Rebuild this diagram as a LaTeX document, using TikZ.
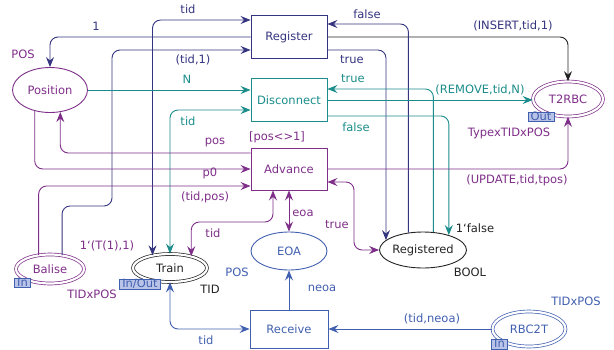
\documentclass[tikz,border=0pt]{standalone}
\usepackage{fontspec}
\setmainfont{DejaVu Sans}
\usetikzlibrary{shapes.geometric,arrows.meta}
\definecolor{cpnnavy}{RGB}{52,52,128}
\definecolor{cpnteal}{RGB}{26,140,138}
\definecolor{cpnpurple}{RGB}{126,46,136}
\definecolor{cpnblue}{RGB}{65,95,175}
\definecolor{cpntag}{RGB}{185,195,232}
\definecolor{cpnblack}{RGB}{35,35,35}

\begin{document}
\begin{tikzpicture}[x=1pt, y=-1pt, line width=0.9pt,
  every node/.style={font=\fontsize{11.5}{13}\selectfont},
  trans/.style={draw, rectangle, minimum width=76pt, minimum height=43pt, inner sep=0pt},
  place/.style={draw, ellipse, inner sep=0pt},
  port/.style={place, double, double distance=2.2pt, line width=0.7pt},
  tag/.style={draw=cpnblue, fill=cpntag, text=cpnblue, font=\fontsize{11.5}{12}\selectfont,
    inner xsep=2.5pt, inner ysep=0.5pt, text height=7.5pt, text depth=1pt, line width=0.6pt},
  arcto/.style={-{Stealth[length=10pt,width=8pt,inset=3.5pt]}, rounded corners=8pt},
  arcboth/.style={{Stealth[length=10pt,width=8pt,inset=3.5pt]}-{Stealth[length=10pt,width=8pt,inset=3.5pt]}, rounded corners=8pt}]
  \useasboundingbox (0,0) rectangle (614,349);

  % transitions
  \node[trans, draw=cpnnavy, text=cpnnavy] (reg) at (289,37) {Register};
  \node[trans, draw=cpnteal, text=cpnteal] (disc) at (289,100) {Disconnect};
  \node[trans, draw=cpnpurple, text=cpnpurple, minimum height=42pt] (adv) at (289,169) {Advance};
  \node[trans, draw=cpnblue, text=cpnblue, minimum width=78pt, minimum height=38pt] (recv) at (289,329) {Receive};

  % places
  \node[place, draw=cpnpurple, text=cpnpurple, minimum width=75pt, minimum height=45pt] (pos) at (50,90) {Position};
  \node[port, draw=cpnpurple, text=cpnpurple, minimum width=70pt, minimum height=35pt] (t2rbc) at (568,99) {T2RBC};
  \node[port, draw=cpnpurple, text=cpnpurple, minimum width=68pt, minimum height=29pt] (balise) at (50,269) {Balise};
  \node[port, draw=cpnblack, text=cpnblack, minimum width=74pt, minimum height=28pt] (train) at (170,268) {Train};
  \node[place, draw=cpnblue, text=cpnblue, minimum width=76pt, minimum height=38pt] (eoa) at (289,251) {EOA};
  \node[place, draw=cpnblack, text=cpnblack, minimum width=81pt, minimum height=36pt] (regd) at (423,250) {Registered};
  \node[port, draw=cpnblue, text=cpnblue, minimum width=73pt, minimum height=35pt] (rbc2t) at (529,329) {RBC2T};

  % Register arcs
  \draw[arcto, cpnnavy] (reg.west) -| (pos.north);
  \draw[arcboth, cpnnavy] (train.144) |- ([yshift=17pt]reg.west);
  \draw[arcto, cpnnavy] (balise.49) |- (112,206) |- ([yshift=-13pt]reg.west);
  \draw[arcto, cpnblack] (reg.east) -| (t2rbc.north);
  \draw[arcto, cpnnavy] (regd.130) |- ([yshift=13pt]reg.east);
  \draw[arcto, cpnnavy] ([yshift=-13pt]reg.east) -| (regd.165);

  % Disconnect arcs
  \draw[arcto, cpnteal] (pos.east) -- (pos.east -| disc.west);
  \draw[arcboth, cpnteal] (train.north) |- ([yshift=-10pt]disc.west);
  \draw[arcto, cpnteal] (regd.60) |- ([yshift=11pt]disc.east);
  \draw[arcto, cpnteal] (disc.east) -- (disc.east -| t2rbc.west);
  \draw[arcto, cpnteal] ([yshift=-16pt]disc.east) -| (regd.30);

  % Advance arcs
  \draw[arcto, cpnpurple] ([yshift=16pt]adv.west) -| (pos.295);
  \draw[arcto, cpnpurple] (pos.234) |- (adv.west);
  \draw[arcto, cpnpurple] (balise.129) |- ([yshift=-17pt]adv.west);
  \draw[arcboth, cpnpurple] ([xshift=-16pt]adv.south) |- (230,222) -| (train.29);
  \draw[arcboth, cpnpurple] (adv.south) -- (eoa.north);
  \draw[arcboth, cpnpurple] ([yshift=-13pt]adv.east) -| (354,225) |- (regd.west);
  \draw[arcto, cpnpurple] (adv.east) -| (t2rbc.south);

  % Receive arcs
  \draw[arcboth, cpnblue] (train.south) |- (recv.west);
  \draw[arcto, cpnblue] (recv.north) -- (eoa.south);
  \draw[arcto, cpnblue] (rbc2t.west) -- (recv.east);

  % port tags
  \node[tag] (baliseio) at (22.5,283) {In};
  \node[tag] (t2rbcio) at (541,117) {Out};
  \node[tag] (trainio) at (140,284.5) {In/Out};
  \node[tag] (rbc2tio) at (499.5,344.5) {In};

  % arc inscriptions
  \node[text=cpnnavy] (lone) at (96,26) {1};
  \node[text=cpnnavy] (ltidreg) at (188,9) {tid};
  \node[text=cpnnavy] (ltidone) at (193,60) {(tid,1)};
  \node[text=cpnnavy] (linsert) at (513,26) {(INSERT,tid,1)};
  \node[text=cpnnavy] (lfalsereg) at (367,14) {false};
  \node[text=cpnnavy] (ltruereg) at (352,60) {true};
  \node[text=cpnteal] (ln) at (187,79) {N};
  \node[text=cpnteal] (ltiddisc) at (188,121) {tid};
  \node[text=cpnteal] (ltruedisc) at (353,79) {true};
  \node[text=cpnteal] (lremove) at (480,90) {(REMOVE,tid,N)};
  \node[text=cpnteal] (lfalsedisc) at (356,127) {false};
  \node[text=cpnpurple] (lpos) at (215,142) {pos};
  \node[text=cpnpurple] (lguard) at (277,137) {[pos<>1]};
  \node[text=cpnpurple] (lpzero) at (210,173) {p0};
  \node[text=cpnpurple] (ltidpos) at (205,197) {(tid,pos)};
  \node[text=cpnpurple] (ltidadv) at (213,233) {tid};
  \node[text=cpnpurple] (leoa) at (303,213) {eoa};
  \node[text=cpnpurple] (ltrueadv) at (337,225) {true};
  \node[text=cpnpurple] (lupdate) at (517,180) {(UPDATE,tid,tpos)};
  \node[text=cpnblue] (ltidrecv) at (206,340) {tid};
  \node[text=cpnblue] (lneoa) at (322,288) {neoa};
  \node[text=cpnblue] (ltidneoa) at (432,319) {(tid,neoa)};

  % colour sets and initial markings
  \node[text=cpnpurple] (cspos) at (23,54) {POS};
  \node[text=cpnpurple] (cst2rbc) at (509,133) {TypexTIDxPOS};
  \node[text=cpnpurple] (mbalise) at (107,246) {1\symbol{96}(T(1),1)};
  \node[text=cpnpurple] (csbalise) at (92,294) {TIDxPOS};
  \node[text=cpnblack] (cstrain) at (210,289) {TID};
  \node[text=cpnblue] (cseoa) at (237,272) {POS};
  \node[text=cpnblack] (csregd) at (470,272) {BOOL};
  \node[text=cpnblack] (mregd) at (475,228) {1\symbol{96}false};
  \node[text=cpnblue] (csrbc2t) at (576,301) {TIDxPOS};
\end{tikzpicture}
\end{document}
